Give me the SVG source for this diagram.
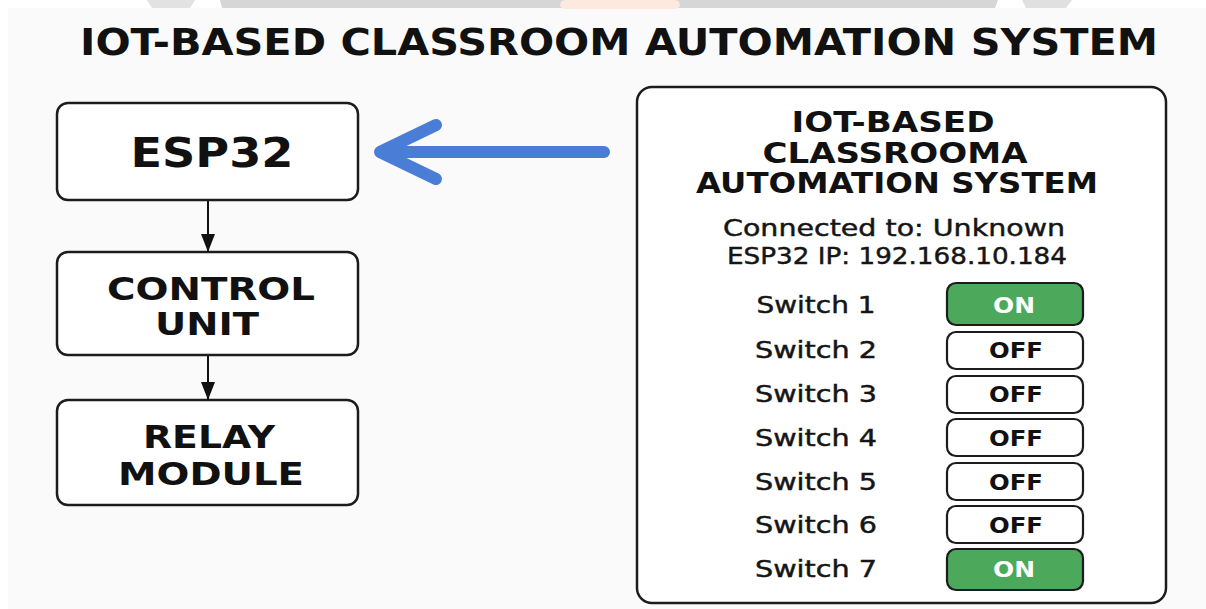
<svg xmlns="http://www.w3.org/2000/svg" width="1206" height="609" viewBox="0 0 1206 609">
<defs>
<style>
.box{fill:#ffffff;stroke:#1c1c1c;stroke-width:2.5}
.lbl{font-family:"DejaVu Sans","Liberation Sans",sans-serif;font-weight:bold;fill:#111;text-anchor:middle}
.reg{font-family:"DejaVu Sans","Liberation Sans",sans-serif;fill:#151515;stroke:#151515;stroke-width:0.45;text-anchor:middle}
.on{fill:#4ca85b;stroke:#1c1c1c;stroke-width:2.2}
.off{fill:#ffffff;stroke:#1c1c1c;stroke-width:2.2}
.btxt{font-family:"DejaVu Sans","Liberation Sans",sans-serif;font-weight:bold;font-size:21px;text-anchor:middle}
.conn{stroke:#111;stroke-width:2;fill:none}
</style>
<marker id="ah" markerUnits="userSpaceOnUse" markerWidth="20" markerHeight="14" refX="18" refY="7" orient="auto">
<path d="M0,0 L18,7 L0,14 Z" fill="#111"/>
</marker>
</defs>
<rect x="0" y="0" width="1206" height="609" fill="#ffffff"/>
<rect x="8" y="8" width="1198" height="601" fill="#fafafa"/>
<g id="watermark">
<path d="M147,0 L195,0 L190,8 L152,8 Z" fill="#e2e2e2"/>
<path d="M220,0 L998,0 L995,8 L222,8 Z" fill="#d6d6d6"/>
<rect x="560" y="0" width="120" height="9" rx="6" fill="#fde9de"/>
<path d="M1022,0 L1072,0 L1066,8 L1026,8 Z" fill="#e0e0e0"/>
</g>
<text class="lbl" x="619" y="55" font-size="38" textLength="1078" lengthAdjust="spacingAndGlyphs">IOT-BASED CLASSROOM AUTOMATION SYSTEM</text>

<g id="esp32">
<rect class="box" x="57" y="103" width="301" height="97" rx="11"/>
<text class="lbl" x="212" y="167" font-size="40" textLength="163" lengthAdjust="spacingAndGlyphs">ESP32</text>
</g>
<g id="control-unit">
<rect class="box" x="57" y="252" width="301" height="103" rx="11"/>
<text class="lbl" x="211" y="300" font-size="31.5" textLength="208" lengthAdjust="spacingAndGlyphs">CONTROL</text>
<text class="lbl" x="207" y="335" font-size="31.5" textLength="104" lengthAdjust="spacingAndGlyphs">UNIT</text>
</g>
<g id="relay-module">
<rect class="box" x="57" y="400" width="301" height="105" rx="11"/>
<text class="lbl" x="209" y="448" font-size="32" textLength="132" lengthAdjust="spacingAndGlyphs">RELAY</text>
<text class="lbl" x="211" y="485" font-size="32" textLength="186" lengthAdjust="spacingAndGlyphs">MODULE</text>
</g>

<g id="connectors">
<line class="conn" x1="208" y1="201" x2="208" y2="252" marker-end="url(#ah)"/>
<line class="conn" x1="208" y1="356" x2="208" y2="400" marker-end="url(#ah)"/>
<g stroke="#4a7dd6" stroke-width="12" stroke-linecap="round" stroke-linejoin="round" fill="none">
<line x1="382" y1="152" x2="604" y2="152"/>
<polyline points="436,125 380,152 436,179"/>
</g>
</g>

<g id="app-panel">
<rect class="box" x="637" y="87" width="529" height="516" rx="15"/>
<text class="lbl" x="893" y="132" font-size="28.5" textLength="203" lengthAdjust="spacingAndGlyphs">IOT-BASED</text>
<text class="lbl" x="895" y="163" font-size="28.5" textLength="265" lengthAdjust="spacingAndGlyphs">CLASSROOMA</text>
<text class="lbl" x="897" y="193" font-size="28.5" textLength="402" lengthAdjust="spacingAndGlyphs">AUTOMATION SYSTEM</text>
<text class="reg" x="894" y="236" font-size="23.5" textLength="342" lengthAdjust="spacingAndGlyphs">Connected to: Unknown</text>
<text class="reg" x="897" y="264" font-size="23.5" textLength="340" lengthAdjust="spacingAndGlyphs">ESP32 IP: 192.168.10.184</text>
</g>

<g id="switch-1">
<text class="reg" x="816" y="313" font-size="23" textLength="119" lengthAdjust="spacingAndGlyphs">Switch 1</text>
<rect class="on" x="947" y="283" width="136" height="42" rx="9"/>
<text class="btxt" x="1014" y="313" fill="#ffffff" textLength="42" lengthAdjust="spacingAndGlyphs">ON</text>
</g>
<g id="switch-2">
<text class="reg" x="816" y="358" font-size="23" textLength="122" lengthAdjust="spacingAndGlyphs">Switch 2</text>
<rect class="off" x="947" y="332" width="136" height="37" rx="9"/>
<text class="btxt" x="1016" y="358" fill="#111" textLength="54" lengthAdjust="spacingAndGlyphs">OFF</text>
</g>
<g id="switch-3">
<text class="reg" x="816" y="402" font-size="23" textLength="122" lengthAdjust="spacingAndGlyphs">Switch 3</text>
<rect class="off" x="947" y="376" width="136" height="37" rx="9"/>
<text class="btxt" x="1016" y="402" fill="#111" textLength="54" lengthAdjust="spacingAndGlyphs">OFF</text>
</g>
<g id="switch-4">
<text class="reg" x="816" y="446" font-size="23" textLength="122" lengthAdjust="spacingAndGlyphs">Switch 4</text>
<rect class="off" x="947" y="419" width="136" height="37" rx="9"/>
<text class="btxt" x="1016" y="446" fill="#111" textLength="54" lengthAdjust="spacingAndGlyphs">OFF</text>
</g>
<g id="switch-5">
<text class="reg" x="816" y="490" font-size="23" textLength="122" lengthAdjust="spacingAndGlyphs">Switch 5</text>
<rect class="off" x="947" y="463" width="136" height="37" rx="9"/>
<text class="btxt" x="1016" y="490" fill="#111" textLength="54" lengthAdjust="spacingAndGlyphs">OFF</text>
</g>
<g id="switch-6">
<text class="reg" x="816" y="533" font-size="23" textLength="122" lengthAdjust="spacingAndGlyphs">Switch 6</text>
<rect class="off" x="947" y="506" width="136" height="37" rx="9"/>
<text class="btxt" x="1016" y="533" fill="#111" textLength="54" lengthAdjust="spacingAndGlyphs">OFF</text>
</g>
<g id="switch-7">
<text class="reg" x="816" y="577" font-size="23" textLength="122" lengthAdjust="spacingAndGlyphs">Switch 7</text>
<rect class="on" x="947" y="549" width="136" height="41" rx="9"/>
<text class="btxt" x="1014" y="577" fill="#ffffff" textLength="42" lengthAdjust="spacingAndGlyphs">ON</text>
</g>
</svg>
